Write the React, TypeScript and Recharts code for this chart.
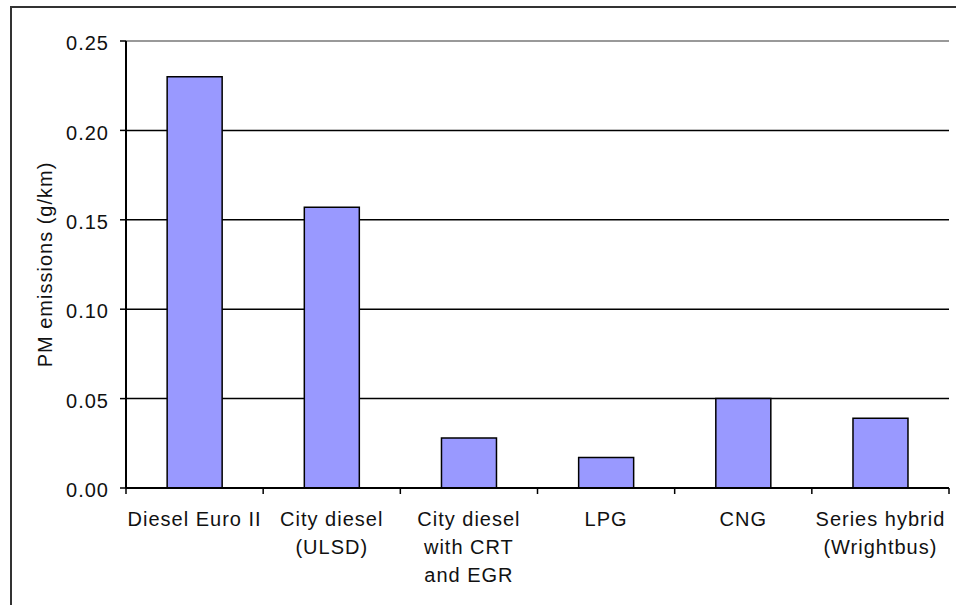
import { Bar, BarChart, CartesianGrid, ReferenceLine, XAxis, YAxis } from 'recharts';

// PM emissions per bus technology (g/km)
const categories = [
  'Diesel Euro II',
  'City diesel\n(ULSD)',
  'City diesel\nwith CRT\nand EGR',
  'LPG',
  'CNG',
  'Series hybrid\n(Wrightbus)',
];
const pmEmissions = [0.23, 0.157, 0.028, 0.017, 0.05, 0.039];
const yTicks = [0, 0.05, 0.1, 0.15, 0.2, 0.25];
const yTitle = 'PM emissions (g/km)';

const data = categories.map((category, i) => ({ category, value: pmEmissions[i] }));

const WIDTH = 956;
const HEIGHT = 605;
const MARGIN = { top: 41, right: 7, bottom: 0, left: 0 };
const Y_AXIS_W = 126;
const X_AXIS_H = 117;
const BAND = (WIDTH - MARGIN.left - MARGIN.right - Y_AXIS_W) / categories.length;

const FONT = '"Liberation Sans", Arial, sans-serif';
const TEXT = '#111';

function CategoryTick(props: any) {
  const { x, y, payload, index } = props;
  const lines = String(payload.value).split('\n');
  const left = x - BAND / 2;
  const right = x + BAND / 2;
  return (
    <g>
      {index === 0 && <line x1={left} x2={left} y1={y} y2={y + 6} stroke="#000" strokeWidth={1.5} />}
      <line x1={right} x2={right} y1={y} y2={y + 6} stroke="#000" strokeWidth={1.5} />
      <text x={x} y={y + 38} textAnchor="middle" fill={TEXT} fontSize={20} fontFamily={FONT} letterSpacing={1}>
        {lines.map((line, i) => (
          <tspan key={i} x={x} dy={i === 0 ? 0 : 28}>
            {line}
          </tspan>
        ))}
      </text>
    </g>
  );
}

function YTitle(props: any) {
  const { viewBox } = props;
  const cx = viewBox.x + 45;
  const cy = viewBox.y + viewBox.height / 2;
  return (
    <text
      x={cx}
      y={cy}
      transform={`rotate(-90, ${cx}, ${cy})`}
      textAnchor="middle"
      dominantBaseline="central"
      fill={TEXT}
      fontSize={20}
      fontFamily={FONT}
      letterSpacing={1}
    >
      {yTitle}
    </text>
  );
}

export default function App() {
  return (
    <div style={{ position: 'absolute', left: 0, top: 0, width: WIDTH, height: HEIGHT, overflow: 'hidden', background: '#fff' }}>
      <div
        style={{
          position: 'absolute',
          left: 10,
          top: 6,
          width: WIDTH + 20,
          height: HEIGHT + 20,
          border: '2px solid #333',
          boxSizing: 'border-box',
        }}
      />
      <div style={{ position: 'absolute', left: 0, top: 0 }}>
        <BarChart width={WIDTH} height={HEIGHT} data={data} margin={MARGIN} barCategoryGap="30%">
          <CartesianGrid horizontal vertical={false} stroke="#000" strokeWidth={1.5} />
          <XAxis
            dataKey="category"
            height={X_AXIS_H}
            interval={0}
            tickLine={false}
            tickSize={0}
            tickMargin={0}
            axisLine={{ stroke: '#000', strokeWidth: 2 }}
            tick={<CategoryTick />}
          />
          <YAxis
            width={Y_AXIS_W}
            domain={[0, 0.25]}
            ticks={yTicks}
            interval={0}
            tickFormatter={(v: number) => v.toFixed(2)}
            tickSize={6}
            tickMargin={11}
            tickLine={{ stroke: '#000', strokeWidth: 1.5 }}
            axisLine={{ stroke: '#000', strokeWidth: 2 }}
            tick={{ fill: TEXT, fontSize: 20, fontFamily: FONT, letterSpacing: 1, dy: 2 }}
            label={{ content: YTitle }}
          />
          <YAxis
            yAxisId="frame"
            orientation="right"
            width={0}
            domain={[0, 0.25]}
            tick={false}
            tickLine={false}
            axisLine={{ stroke: '#999', strokeWidth: 2 }}
          />
          <ReferenceLine y={0.25} stroke="#999" strokeWidth={2} />
          <Bar dataKey="value" fill="#9999FF" stroke="#000" strokeWidth={1.5} isAnimationActive={false} />
        </BarChart>
      </div>
    </div>
  );
}
